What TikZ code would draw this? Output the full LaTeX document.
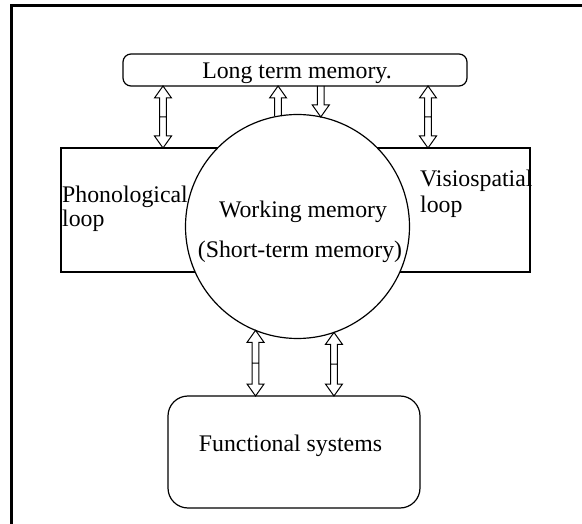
\documentclass[tikz,border=0pt]{standalone}
\usepackage{fontspec}
\setmainfont{Liberation Serif}
\usetikzlibrary{calc}
\begin{document}
\begin{tikzpicture}[x=1pt,y=-1pt,
  txt/.style={font=\fontsize{23.8}{28}\selectfont, inner sep=0pt},
  box/.style={draw, line width=1.2pt, inner sep=0pt, outer sep=0pt},
  dblarr/.style={line width=1pt, to path={let \p1=(\tikztostart), \p2=(\tikztotarget) in
     (\x1,\y1) -- (\x1+8.5pt,\y1-12pt) -- (\x1+3.4pt,\y1-12pt) -- (\x1+3.4pt,\y2+12pt)
     -- (\x1+8.5pt,\y2+12pt) -- (\x1,\y2) -- (\x1-8.5pt,\y2+12pt) -- (\x1-3.4pt,\y2+12pt)
     -- (\x1-3.4pt,\y1-12pt) -- (\x1-8.5pt,\y1-12pt) -- cycle
     (\x1-3.4pt,{0.5*(\y1+\y2)}) -- (\x1+3.4pt,{0.5*(\y1+\y2)})}},
  uparr/.style={line width=1pt, to path={let \p1=(\tikztostart), \p2=(\tikztotarget) in
     (\x1+3.4pt,\y2) -- (\x1+3.4pt,\y1-12pt) -- (\x1+8.5pt,\y1-12pt) -- (\x1,\y1)
     -- (\x1-8.5pt,\y1-12pt) -- (\x1-3.4pt,\y1-12pt) -- (\x1-3.4pt,\y2)}},
  downarr/.style={line width=1pt, to path={let \p1=(\tikztostart), \p2=(\tikztotarget) in
     (\x1+3.4pt,\y1) -- (\x1+3.4pt,\y2+12pt) -- (\x1+8.5pt,\y2+12pt) -- (\x1,\y2)
     -- (\x1-8.5pt,\y2+12pt) -- (\x1-3.4pt,\y2+12pt) -- (\x1-3.4pt,\y1)}}
]
\useasboundingbox (0,0) rectangle (582,524);
\draw[line width=3pt] (11.5,524) -- (11.5,5.5) -- (582,5.5);

% boxes
\node[box, rounded corners=8pt, minimum width=344pt, minimum height=32pt] (ltm) at (295,70) {};
\node[box, minimum width=469pt, minimum height=124pt] (loops) at (295.5,210) {};
\node[box, rounded corners=20pt, minimum width=252pt, minimum height=112pt] (fs) at (294,452) {};
\node[box, circle, fill=white, minimum size=224pt] (wm) at (297.5,226.5) {};

% x positions of side arrows
\coordinate (xa) at (163,0);
\coordinate (xb) at (428,0);

% arrows
\draw[dblarr] (xa |- ltm.south) to (xa |- loops.north);
\draw[dblarr] (xb |- ltm.south) to (xb |- loops.north);
\draw[uparr] (wm.100 |- ltm.south) to (wm.100);
\draw[downarr] (wm.78.93 |- ltm.south) to (wm.78.93);
\draw[dblarr] (wm.248.8) to (wm.248.8 |- fs.north);
\draw[dblarr] (wm.289.56) to (wm.289.56 |- fs.north);

% texts
\node[txt, anchor=base] at (297,79) {Long term memory.};
\node[txt, anchor=base] at (303,218) {Working memory};
\node[txt, anchor=base] at (300,258) {(Short-term memory)};
\node[txt, anchor=base west] at (62,203) {Phonological};
\node[txt, anchor=base west] at (62,227) {loop};
\node[txt, anchor=base west] at (420,187) {Visiospatial};
\node[txt, anchor=base west] at (420,213) {loop};
\node[txt, anchor=base] at (290.5,451) {Functional systems};
\end{tikzpicture}
\end{document}
